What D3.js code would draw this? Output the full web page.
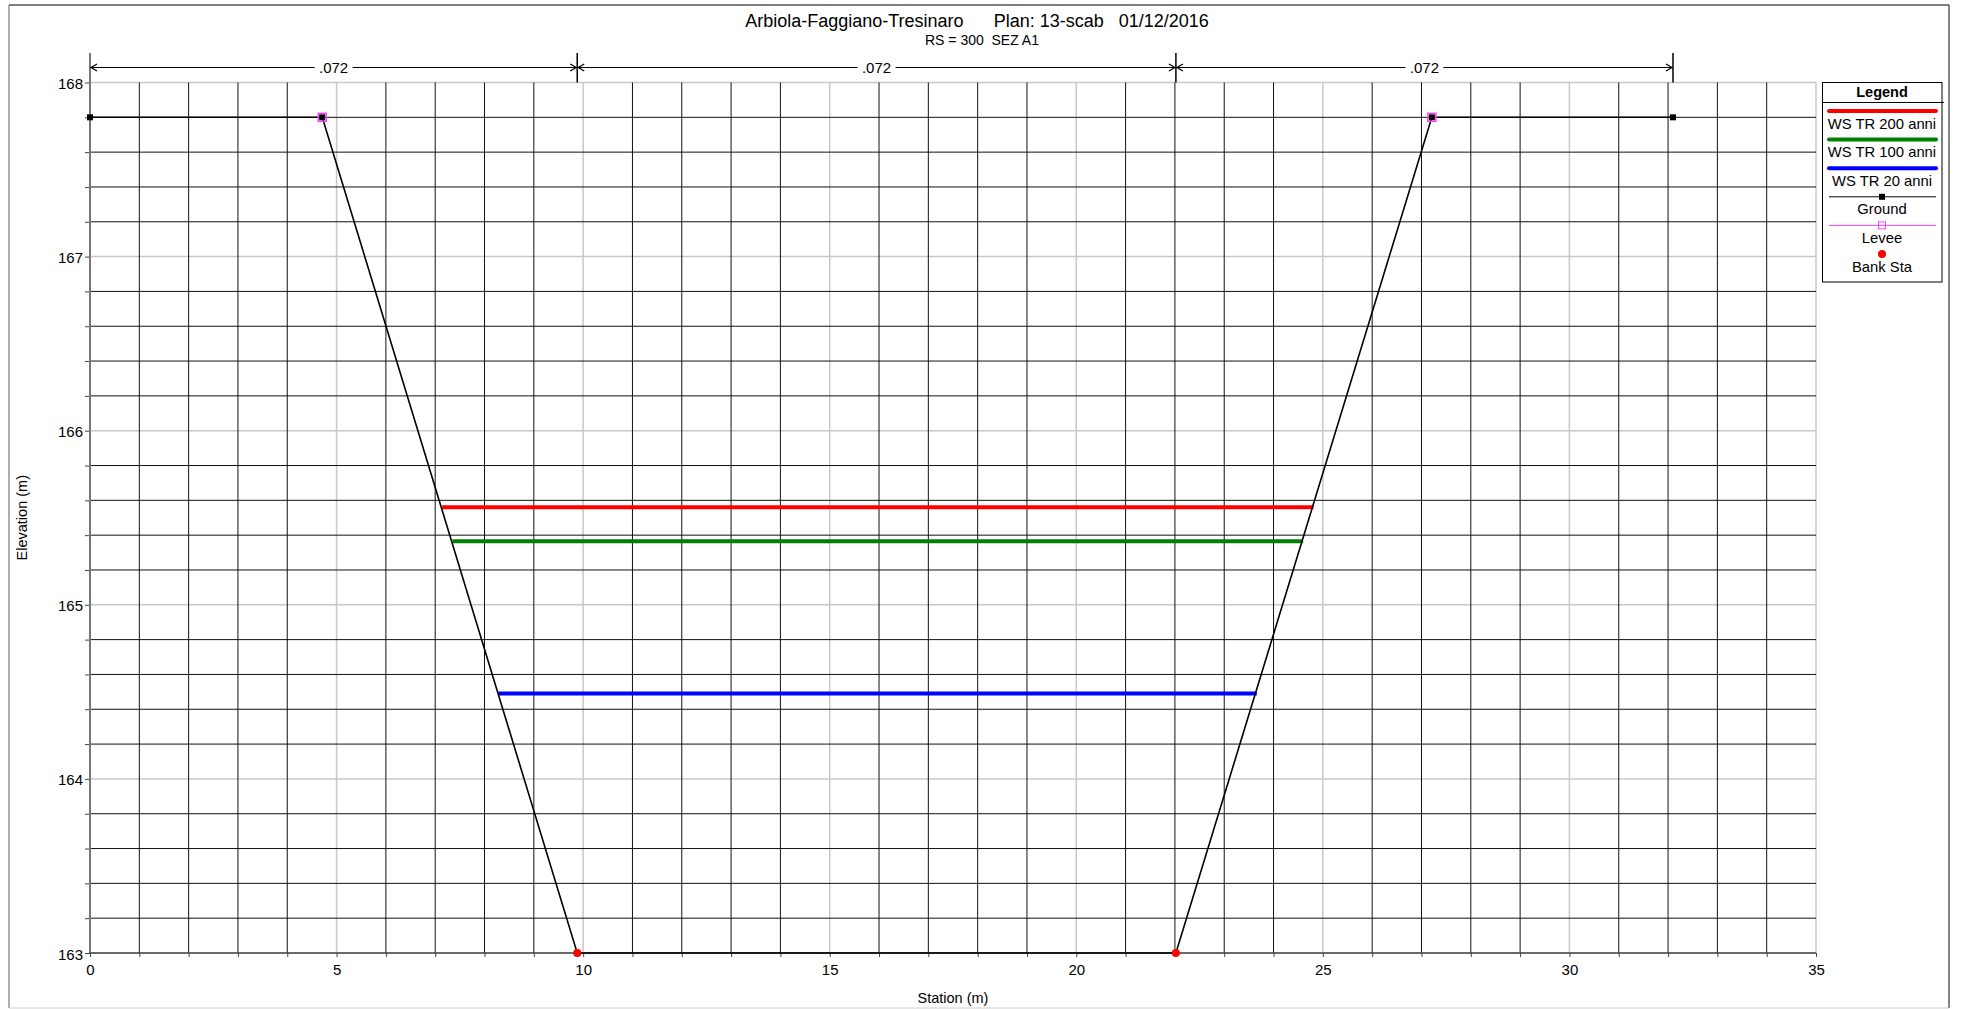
<!DOCTYPE html>
<html>
<head>
<meta charset="utf-8">
<script src="https://cdn.jsdelivr.net/npm/d3@7"></script>
<style>
  html, body { margin: 0; padding: 0; background: #fff; }
  text { font-family: "Liberation Sans", Arial, sans-serif; fill: #000; }
</style>
</head>
<body>
<svg id="chart" width="1961" height="1009"></svg>
<script>
// ---------------- data ----------------
const titleText = "Arbiola-Faggiano-Tresinaro      Plan: 13-scab   01/12/2016";
const subtitleText = "RS = 300  SEZ A1";
const xLabel = "Station (m)";
const yLabel = "Elevation (m)";

const groundStation = [0, 4.71, 9.88, 22.02, 27.21, 32.10];
const groundElev    = [167.8, 167.8, 163.0, 163.0, 167.8, 167.8];

const leveeStation = [4.71, 27.21];
const leveeElev    = [167.8, 167.8];

const bankStation = [9.88, 22.02];
const bankElev    = [163.0, 163.0];

const wsNames  = ["WS TR 200 anni", "WS TR 100 anni", "WS TR 20 anni"];
const wsElev   = [165.56, 165.365, 164.49];
const wsLeft   = [7.14, 7.35, 8.28];
const wsRight  = [24.81, 24.60, 23.66];
const wsColors = ["#ff0000", "#008000", "#0000ff"];

const nStart = [0, 9.88, 22.02];
const nEnd   = [9.88, 22.02, 32.10];
const nValue = [".072", ".072", ".072"];

const xTickLabels = [0, 5, 10, 15, 20, 25, 30, 35];
const yTickLabels = [163, 164, 165, 166, 167, 168];

// ---------------- layout ----------------
const svg = d3.select("#chart");
const x = d3.scaleLinear().domain([0, 35]).range([90, 1816]);
const y = d3.scaleLinear().domain([163, 168]).range([953, 82.5]);

// outer frame
svg.append("line").attr("x1", 9).attr("y1", 5).attr("x2", 1949).attr("y2", 5).attr("stroke", "#000").attr("stroke-width", 1.2);
svg.append("line").attr("x1", 1949).attr("y1", 5).attr("x2", 1949).attr("y2", 1008).attr("stroke", "#333").attr("stroke-width", 1.2);
svg.append("line").attr("x1", 9).attr("y1", 5).attr("x2", 9).attr("y2", 1008).attr("stroke", "#777").attr("stroke-width", 1.2);
svg.append("line").attr("x1", 9).attr("y1", 1008).attr("x2", 1949).attr("y2", 1008).attr("stroke", "#d0d0d0").attr("stroke-width", 1.2);

// titles
svg.append("text").attr("x", 977).attr("y", 27).attr("text-anchor", "middle")
  .style("font-size", "18px").style("white-space", "pre").text(titleText);
svg.append("text").attr("x", 982).attr("y", 44.5).attr("text-anchor", "middle")
  .style("font-size", "14px").style("white-space", "pre").text(subtitleText);

// grid
const xMinor = d3.range(0, 36, 1);
const yMinor = d3.range(0, 26).map(i => +(163 + i * 0.2).toFixed(1));
const grid = svg.append("g");
grid.selectAll(".vmaj").data(xMinor.filter(v => v % 5 === 0)).join("line")
  .attr("x1", d => x(d)).attr("x2", d => x(d)).attr("y1", y(168)).attr("y2", y(163))
  .attr("stroke", "#c8c8c8").attr("stroke-width", 1.5);
grid.selectAll(".hmaj").data(yMinor.filter(v => Math.abs(v - Math.round(v)) < 1e-6)).join("line")
  .attr("x1", x(0)).attr("x2", x(35)).attr("y1", d => y(d)).attr("y2", d => y(d))
  .attr("stroke", "#c8c8c8").attr("stroke-width", 1.5);
grid.selectAll(".vmin").data(xMinor.filter(v => v % 5 !== 0)).join("line")
  .attr("x1", d => x(d)).attr("x2", d => x(d)).attr("y1", y(168)).attr("y2", y(163))
  .attr("stroke", "#111").attr("stroke-width", 1);
grid.selectAll(".hmin").data(yMinor.filter(v => Math.abs(v - Math.round(v)) > 1e-6)).join("line")
  .attr("x1", x(0)).attr("x2", x(35)).attr("y1", d => y(d)).attr("y2", d => y(d))
  .attr("stroke", "#111").attr("stroke-width", 1);

// axes
const yAxis = d3.axisLeft(y).tickValues(yMinor).tickSize(5)
  .tickFormat(d => yTickLabels.includes(d) ? d3.format("d")(d) : "");
const gy = svg.append("g").attr("transform", `translate(${x(0)},0)`).call(yAxis);
gy.select(".domain").remove();
gy.selectAll(".tick line").attr("stroke", "#444");
gy.selectAll(".tick text").style("font-size", "15px").attr("x", -7).attr("dy", "0.4em")
  .style("font-family", "'Liberation Sans', Arial, sans-serif").attr("fill", "#000");

const xAxis = d3.axisBottom(x).tickValues(xMinor).tickSize(4)
  .tickFormat(d => xTickLabels.includes(d) ? d : "");
const gx = svg.append("g").attr("transform", `translate(0,${y(163)})`).call(xAxis);
gx.select(".domain").remove();
gx.selectAll(".tick line").attr("stroke", "#444");
gx.selectAll(".tick text").style("font-size", "15px").attr("y", 8).attr("dy", "0.9em")
  .style("font-family", "'Liberation Sans', Arial, sans-serif").attr("fill", "#000");

// axis lines
svg.append("line").attr("x1", x(0)).attr("x2", x(0)).attr("y1", 53).attr("y2", y(163))
  .attr("stroke", "#777").attr("stroke-width", 2);
svg.append("line").attr("x1", x(0)).attr("x2", x(35)).attr("y1", y(163)).attr("y2", y(163))
  .attr("stroke", "#444").attr("stroke-width", 1.5);

// axis titles
svg.append("text").attr("transform", `translate(27,${(y(163) + y(168)) / 2}) rotate(-90)`)
  .attr("text-anchor", "middle").style("font-size", "14.5px").text(yLabel);
svg.append("text").attr("x", (x(0) + x(35)) / 2).attr("y", 1003).attr("text-anchor", "middle")
  .style("font-size", "14.5px").text(xLabel);

// Manning's n dimension line
const dimY = 67.5;
const dim = svg.append("g");
nStart.forEach((s, i) => {
  const x1 = x(s), x2 = x(nEnd[i]);
  dim.append("line").attr("x1", x1).attr("x2", x2).attr("y1", dimY).attr("y2", dimY)
    .attr("stroke", "#000").attr("stroke-width", 1);
  dim.append("path").attr("d", `M${x1 + 7},${dimY - 3.5} L${x1 + 1},${dimY} L${x1 + 7},${dimY + 3.5}`)
    .attr("fill", "none").attr("stroke", "#000").attr("stroke-width", 1.2);
  dim.append("path").attr("d", `M${x2 - 7},${dimY - 3.5} L${x2 - 1},${dimY} L${x2 - 7},${dimY + 3.5}`)
    .attr("fill", "none").attr("stroke", "#000").attr("stroke-width", 1.2);
  const cx = (x1 + x2) / 2;
  dim.append("rect").attr("x", cx - 19).attr("y", dimY - 8).attr("width", 38).attr("height", 16).attr("fill", "#fff");
  dim.append("text").attr("x", cx).attr("y", dimY).attr("dy", "0.36em").attr("text-anchor", "middle")
    .style("font-size", "15px").text(nValue[i]);
});
nEnd.forEach(s => {
  dim.append("line").attr("x1", x(s)).attr("x2", x(s)).attr("y1", 53).attr("y2", y(168))
    .attr("stroke", "#000").attr("stroke-width", 1.5);
});

// water surfaces
wsElev.forEach((e, i) => {
  svg.append("line").attr("x1", x(wsLeft[i])).attr("x2", x(wsRight[i]))
    .attr("y1", y(e)).attr("y2", y(e)).attr("stroke", wsColors[i]).attr("stroke-width", 4);
});

// ground
const groundData = groundStation.map((s, i) => [s, groundElev[i]]);
svg.append("path").datum(groundData)
  .attr("d", d3.line().x(d => x(d[0])).y(d => y(d[1])))
  .attr("fill", "none").attr("stroke", "#000").attr("stroke-width", 1.6);
svg.selectAll(".gpt").data(groundData).join("rect")
  .attr("x", d => x(d[0]) - 3).attr("y", d => y(d[1]) - 3).attr("width", 6).attr("height", 6).attr("fill", "#000");

// levees
svg.selectAll(".lev").data(leveeStation.map((s, i) => [s, leveeElev[i]])).join("rect")
  .attr("x", d => x(d[0]) - 4).attr("y", d => y(d[1]) - 4).attr("width", 8).attr("height", 8)
  .attr("fill", "none").attr("stroke", "#ff40ff").attr("stroke-width", 1.5);

// bank stations
svg.selectAll(".bank").data(bankStation.map((s, i) => [s, bankElev[i]])).join("circle")
  .attr("cx", d => x(d[0])).attr("cy", d => y(d[1])).attr("r", 4).attr("fill", "#ff0000");

// legend
const lg = svg.append("g");
lg.append("rect").attr("x", 1822.5).attr("y", 82.5).attr("width", 119.5).attr("height", 199.5)
  .attr("fill", "#fff").attr("stroke", "#000").attr("stroke-width", 1);
lg.append("line").attr("x1", 1822.5).attr("x2", 1944).attr("y1", 102.5).attr("y2", 102.5).attr("stroke", "#000");
lg.append("text").attr("x", 1882).attr("y", 96.5).attr("text-anchor", "middle")
  .style("font-size", "14.5px").style("font-weight", "bold").text("Legend");
const lx1 = 1829, lx2 = 1936, lcx = 1882;
const legendItems = wsNames.map((n, i) => ({ name: n, type: "ws", color: wsColors[i] }))
  .concat([{ name: "Ground", type: "ground" }, { name: "Levee", type: "levee" }, { name: "Bank Sta", type: "bank" }]);
legendItems.forEach((it, i) => {
  const ly = 111 + i * 28.6;
  if (it.type === "ws") {
    lg.append("line").attr("x1", lx1).attr("x2", lx2).attr("y1", ly).attr("y2", ly)
      .attr("stroke", it.color).attr("stroke-width", 4).attr("stroke-linecap", "round");
  } else if (it.type === "ground") {
    lg.append("line").attr("x1", lx1).attr("x2", lx2).attr("y1", ly).attr("y2", ly).attr("stroke", "#000").attr("stroke-width", 1);
    lg.append("rect").attr("x", lcx - 3).attr("y", ly - 3).attr("width", 6).attr("height", 6).attr("fill", "#000");
  } else if (it.type === "levee") {
    lg.append("line").attr("x1", lx1).attr("x2", lx2).attr("y1", ly).attr("y2", ly).attr("stroke", "#ff40ff").attr("stroke-width", 1);
    lg.append("rect").attr("x", lcx - 3.5).attr("y", ly - 3.5).attr("width", 7).attr("height", 7)
      .attr("fill", "none").attr("stroke", "#ff40ff").attr("stroke-width", 1);
  } else {
    lg.append("circle").attr("cx", lcx).attr("cy", ly).attr("r", 4).attr("fill", "#ff0000");
  }
  lg.append("text").attr("x", lcx).attr("y", ly + 17.5).attr("text-anchor", "middle")
    .style("font-size", "14.8px").text(it.name);
});
</script>
</body>
</html>
